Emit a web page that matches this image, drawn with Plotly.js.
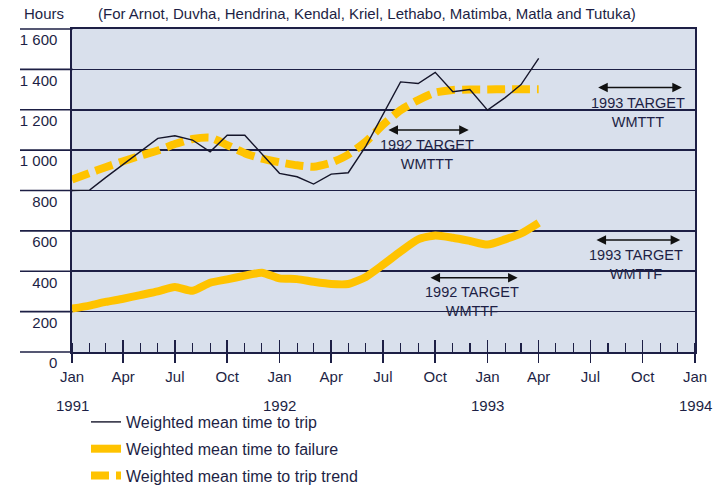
<!DOCTYPE html>
<html>
<head>
<meta charset="utf-8">
<script src="https://cdn.plot.ly/plotly-3.0.1.min.js"></script>
<style>html,body{margin:0;padding:0;background:#fff;}</style>
</head>
<body>
<div id="chart" style="width:716px;height:495px;"></div>
<script>
// ---- data ----
const months = ['1991-01-01','1991-02-01','1991-03-01','1991-04-01','1991-05-01','1991-06-01',
  '1991-07-01','1991-08-01','1991-09-01','1991-10-01','1991-11-01','1991-12-01',
  '1992-01-01','1992-02-01','1992-03-01','1992-04-01','1992-05-01','1992-06-01',
  '1992-07-01','1992-08-01','1992-09-01','1992-10-01','1992-11-01','1992-12-01',
  '1993-01-01','1993-02-01','1993-03-01','1993-04-01'];
const timeToTrip = [800, 802, 864, 928, 994, 1058, 1071, 1050, 992, 1074, 1074, 980,
  885, 868, 832, 881, 888, 1020, 1180, 1338, 1330, 1385, 1289, 1300,
  1198, 1260, 1325, 1454];
const timeToFailure = [215, 230, 248, 264, 282, 300, 322, 303, 343, 360, 378, 393,
  365, 361, 348, 337, 337, 372, 432, 498, 558, 577, 566, 550,
  532, 558, 587, 640];
const tripTrend = [855, 887, 915, 945, 972, 998, 1030, 1055, 1062, 1025, 985, 958,
  940, 925, 918, 938, 978, 1042, 1125, 1198, 1248, 1285, 1298, 1300,
  1300, 1302, 1302, 1302];
const seriesNames = ['Weighted mean time to trip', 'Weighted mean time to failure', 'Weighted mean time to trip trend'];
const yTickVals = [0, 200, 400, 600, 800, 1000, 1200, 1400, 1600];
const yTickText = ['0', '200', '400', '600', '800', '1 000', '1 200', '1 400', '1 600'];
const yearVals = ['1991-01-01', '1992-01-01', '1993-01-01', '1994-01-01'];
const yearText = ['1991', '1992', '1993', '1994'];
// target bands
const targetLabels = ['1992 TARGET<br>WMTTT', '1993 TARGET<br>WMTTT', '1992 TARGET<br>WMTTF', '1993 TARGET<br>WMTTF'];
const targetStart = ['1992-07-08', '1993-07-12', '1992-09-20', '1993-07-09'];
const targetEnd = ['1992-11-29', '1993-12-09', '1993-02-23', '1993-12-06'];
const targetValue = [1100, 1310, 368, 555];

// ---- style ----
const NAVY = '#1d1f45';
const YELLOW = '#FFC300';
const FONT = 'Liberation Sans, Arial, Helvetica, sans-serif';

const traces = [
  { x: months, y: tripTrend, name: seriesNames[2], type: 'scatter', mode: 'lines',
    line: { color: YELLOW, width: 8, dash: '18px,7px', shape: 'spline', smoothing: 0.6 },
    legendrank: 3, legendgroup: 'c' },
  { x: months, y: timeToFailure, name: seriesNames[1], type: 'scatter', mode: 'lines',
    line: { color: YELLOW, width: 8, shape: 'spline', smoothing: 0.6 },
    legendrank: 2, legendgroup: 'b' },
  { x: months, y: timeToTrip, name: seriesNames[0], type: 'scatter', mode: 'lines',
    line: { color: '#15152a', width: 1.4 },
    legendrank: 1, legendgroup: 'a' },
  { x: [months[0]], y: [null], xaxis: 'x2', yaxis: 'y', showlegend: false, hoverinfo: 'skip', type: 'scatter', mode: 'lines' }
];

const plotW = 716 - 72 - 21, plotH = 352 - 29;
const annotations = [];
annotations.push({ xref: 'paper', yref: 'paper', x: (22 - 72) / plotW, y: 1 + (29 - 14) / plotH,
  xanchor: 'left', yanchor: 'middle', text: 'Hours', showarrow: false, font: { family: FONT, size: 15, color: NAVY } });
annotations.push({ xref: 'paper', yref: 'paper', x: (96 - 72) / plotW, y: 1 + (29 - 14) / plotH,
  xanchor: 'left', yanchor: 'middle', text: '(For Arnot, Duvha, Hendrina, Kendal, Kriel, Lethabo, Matimba, Matla and Tutuka)',
  showarrow: false, font: { family: FONT, size: 15, color: NAVY } });
yearVals.forEach((d, i) => annotations.push({ xref: 'x', yref: 'paper', x: d, y: -(405 - 352) / plotH,
  xanchor: 'center', yanchor: 'middle', text: yearText[i], showarrow: false, font: { family: FONT, size: 15, color: NAVY } }));
const labelPos = [['1992-09-16', 980], ['1993-09-23', 1188], ['1992-12-05', 249], ['1993-09-20', 431]];
targetLabels.forEach((t, i) => {
  annotations.push({ xref: 'x', yref: 'y', axref: 'x', ayref: 'y', x: targetEnd[i], y: targetValue[i],
    ax: targetStart[i], ay: targetValue[i], text: '', showarrow: true, arrowside: 'end+start',
    arrowhead: 2, arrowsize: 1.2, arrowwidth: 1.6, arrowcolor: '#111' });
  annotations.push({ xref: 'x', yref: 'y', x: labelPos[i][0], y: labelPos[i][1], text: t, showarrow: false,
    xanchor: 'center', yanchor: 'middle', font: { family: FONT, size: 14.5, color: NAVY } });
});

const shapes = yTickVals.map(v => ({ type: 'line', xref: 'paper', yref: 'paper', layer: 'below',
  x0: (20 - 72) / plotW, x1: 0.001, y0: v / 1600, y1: v / 1600, line: { color: NAVY, width: 1.6 } }));

const layout = {
  width: 716, height: 495,
  margin: { l: 72, r: 21, t: 29, b: 143, pad: 0, autoexpand: false },
  paper_bgcolor: '#ffffff', plot_bgcolor: '#d9e0ec',
  font: { family: FONT, size: 15, color: NAVY },
  showlegend: true,
  legend: { x: (86 - 72) / plotW, xanchor: 'left', y: -(405 - 352) / plotH, yanchor: 'top',
    bgcolor: 'rgba(0,0,0,0)', font: { family: FONT, size: 16, color: NAVY },
    traceorder: 'grouped', tracegroupgap: 3 },
  xaxis: {
    type: 'date', range: ['1991-01-01', '1994-01-01'], fixedrange: true,
    tickmode: 'linear', tick0: '1991-01-01', dtick: 'M3', tickformat: '%b',
    ticks: 'outside', ticklen: 9, tickwidth: 1.5, tickcolor: NAVY, ticklabelstandoff: 1,
    showline: true, linecolor: NAVY, linewidth: 1.6, mirror: true,
    showgrid: false, zeroline: false,
    tickfont: { family: FONT, size: 15, color: NAVY },
    minor: { dtick: 'M1', ticks: 'inside', ticklen: 9, tickwidth: 1.2, tickcolor: NAVY, showgrid: false }
  },
  xaxis2: {
    type: 'date', range: ['1991-01-01', '1994-01-01'], overlaying: 'x', anchor: 'y', side: 'bottom',
    tickmode: 'linear', tick0: '1991-01-01', dtick: 'M3', ticks: 'inside', ticklen: 12, tickwidth: 1.5,
    tickcolor: NAVY, showticklabels: false, showgrid: false, zeroline: false, showline: false
  },
  yaxis: {
    range: [0, 1600], fixedrange: true,
    tickmode: 'array', tickvals: yTickVals, ticktext: yTickText,
    ticks: '', ticklabelshift: 11, ticklabelstandoff: 10,
    showgrid: true, gridcolor: NAVY, gridwidth: 1.6,
    showline: true, linecolor: NAVY, linewidth: 1.6, mirror: true, zeroline: false,
    tickfont: { family: FONT, size: 15, color: NAVY }
  },
  annotations: annotations,
  shapes: shapes
};

Plotly.newPlot('chart', traces, layout, { displayModeBar: false, staticPlot: true });
</script>
</body>
</html>
